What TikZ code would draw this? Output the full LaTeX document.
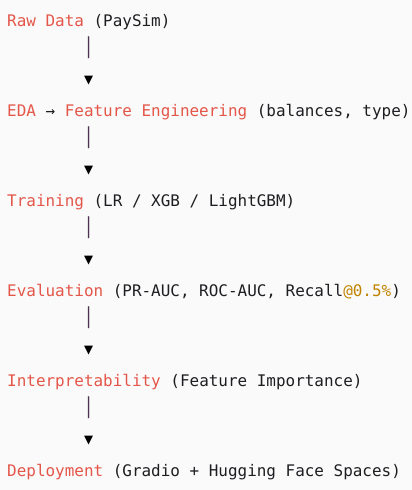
\documentclass[tikz,border=0pt]{standalone}
\usepackage{fontspec}
\newfontfamily\codefont{DejaVu Sans Mono}
\definecolor{pagebg}{HTML}{FAFAFA}
\definecolor{stagered}{HTML}{E45649}
\definecolor{plaintext}{HTML}{1E1E22}
\definecolor{numgold}{HTML}{C18401}
\definecolor{pipe}{HTML}{4B3350}
\begin{document}
\begin{tikzpicture}[x=1pt,y=1pt,
  codeline/.style={anchor=base west,inner sep=0pt,text=plaintext,
    font=\codefont\fontsize{15.95}{30}\selectfont},
  pipebar/.style={anchor=base,inner sep=0pt,text=pipe,yscale=1.375,transform shape,
    font=\codefont\fontsize{15.95}{30}\selectfont},
  pipetip/.style={anchor=base,inner sep=0pt,text=black,
    font=\codefont\fontsize{15}{30}\selectfont}]
\fill[pagebg] (0,0) rectangle (412,-490);
\useasboundingbox (0,0) rectangle (412,-490);
% stage lines, one every 90pt, baseline-aligned
\node[codeline] (raw)    at (7,-26)  {\textcolor{stagered}{Raw Data} (PaySim)};
\node[codeline] (eda)    at (7,-116) {\textcolor{stagered}{EDA} → \textcolor{stagered}{Feature Engineering} (balances, type)};
\node[codeline] (train)  at (7,-206) {\textcolor{stagered}{Training} (LR / XGB / LightGBM)};
\node[codeline] (eval)   at (7,-296) {\textcolor{stagered}{Evaluation} (PR-AUC, ROC-AUC, Recall\textcolor{numgold}{@0.5\%})};
\node[codeline] (interp) at (7,-386) {\textcolor{stagered}{Interpretability} (Feature Importance)};
\node[codeline] (deploy) at (7,-476) {\textcolor{stagered}{Deployment} (Gradio + Hugging Face Spaces)};
% pipe and arrow head between consecutive stages (column 9)
\foreach \k/\nm in {0/a,1/b,2/c,3/d,4/e}{
  \node[pipebar] (bar\nm) at (88.6,{-53.8-90*\k}) {|};
  \node[pipetip] (tip\nm) at (88.6,{-84-90*\k}) {▼};
}
\end{tikzpicture}
\end{document}
